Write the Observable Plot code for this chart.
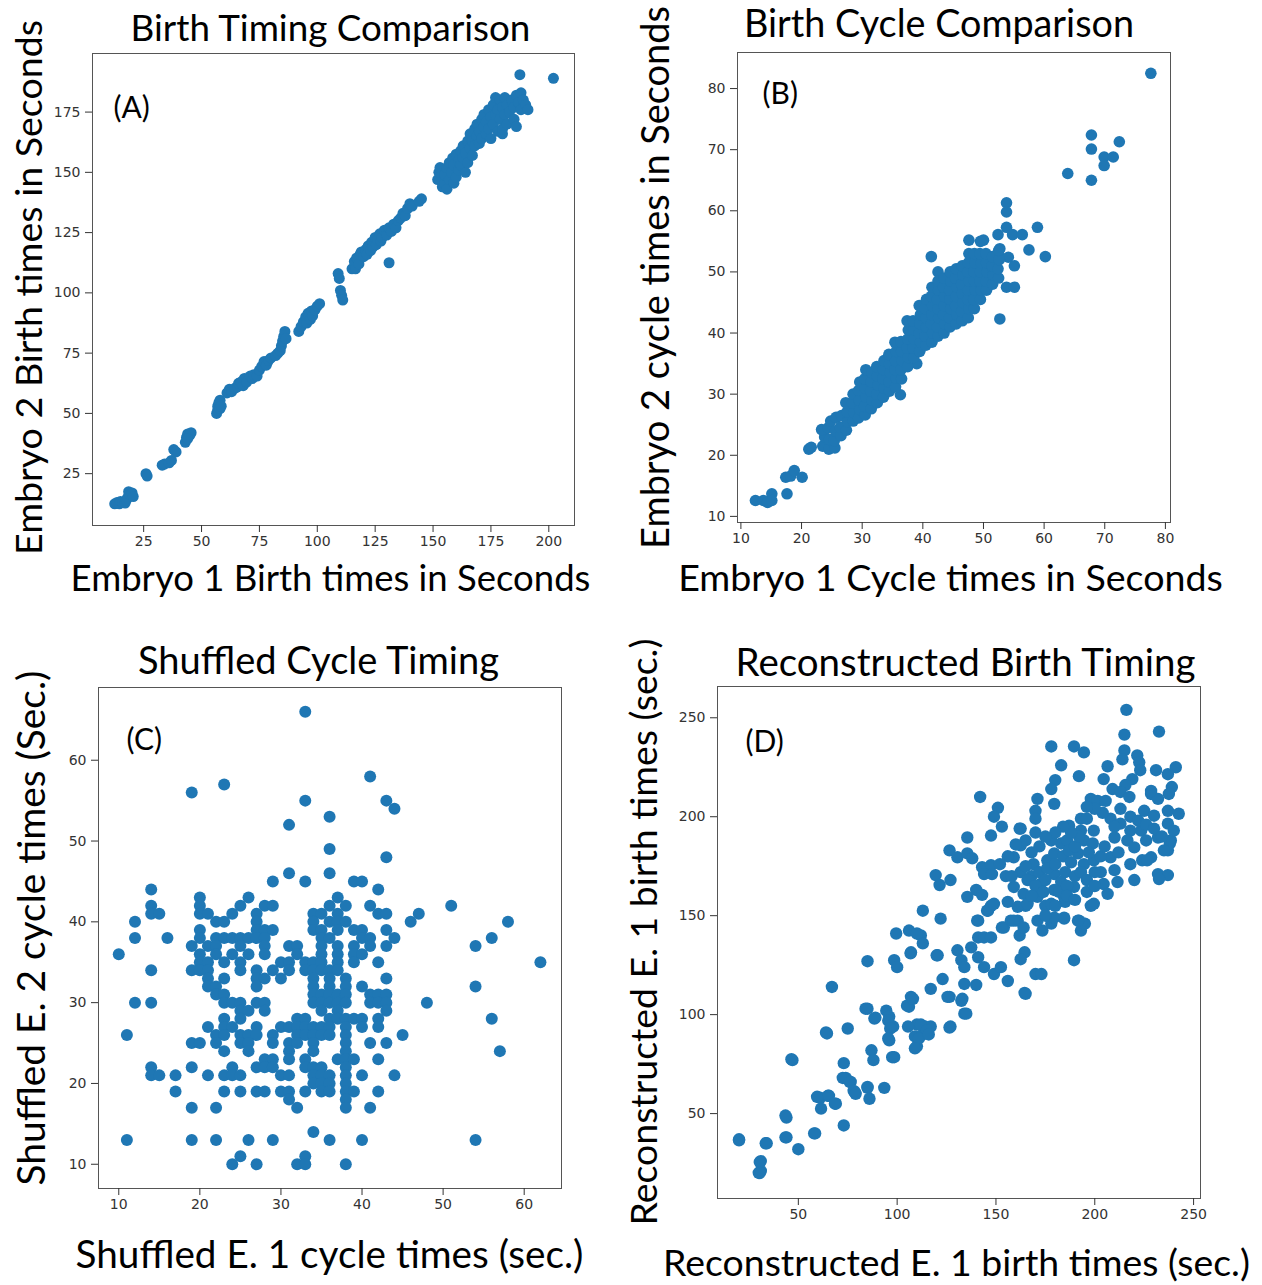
<!DOCTYPE html>
<html><head><meta charset="utf-8">
<script src="https://cdn.jsdelivr.net/npm/d3@7"></script>
<script src="https://cdn.jsdelivr.net/npm/@observablehq/plot@0.6"></script>
<style>
html,body{margin:0;padding:0;background:#fff;}
#root{position:relative;width:1262px;height:1285px;overflow:hidden;background:#fff;}
.panel{position:absolute;}
</style></head><body><div id="root"></div>
<script>
// ---------- DATA ----------
const titles = ["Birth Timing Comparison","Birth Cycle Comparison","Shuffled Cycle Timing","Reconstructed Birth Timing"];
const xLabels = ["Embryo 1 Birth times in Seconds","Embryo 1 Cycle times in Seconds","Shuffled E. 1 cycle times (sec.)","Reconstructed E. 1 birth times (sec.)"];
const yLabels = ["Embryo 2 Birth times in Seconds","Embryo 2 cycle times in Seconds","Shuffled E. 2 cycle times (Sec.)","Reconstructed E. 1 birth times (sec.)"];
const tags = ["(A)","(B)","(C)","(D)"];

const aXTicks = [25,50,75,100,125,150,175,200];
const aYTicks = [25,50,75,100,125,150,175];
const bXTicks = [10,20,30,40,50,60,70,80];
const bYTicks = [10,20,30,40,50,60,70,80];
const cXTicks = [10,20,30,40,50,60];
const cYTicks = [10,20,30,40,50,60];
const dXTicks = [50,100,150,200,250];
const dYTicks = [50,100,150,200,250];

const panelA = [[12.5,12.5],[13.5,13],[14.5,12.5],[15,13.5],[16,13],[17,12.8],[17.5,14],[18,15],[18.5,17.5],[19,16.5],[20,17],[20.5,15.5],[26,25],[26.5,24],[33,28.5],[34,29],[36,29.5],[37,30.5],[38,35],[39,34],[43,38],[43.5,40],[44,41.5],[45,41],[45.5,42],[44,39.5],[56.5,50],[57,51.5],[57,53],[57.5,54.5],[58,52],[58,55.5],[58.5,53],[61,58.5],[62,60],[63,59],[64.5,60.5],[65.5,61],[66,62.5],[67,63],[68,61.5],[68.5,64.5],[69.5,63],[71,65.5],[72,64.5],[72.5,66],[74,65.5],[75,68],[76,69.5],[77,71.5],[78,70],[79,72],[80,73],[82,74],[83,75],[84,76],[84.5,78],[85,80],[85.5,82],[86,84],[86.5,81],[92,84],[93,86],[94,88],[95,90],[95.5,87.5],[96,91.5],[97,89],[97.5,92.5],[98,90.5],[99,93],[100,94.5],[101,95.5],[109,108],[109.5,106],[110,101],[110.5,99],[111,97],[115,110],[116,113],[116.5,110],[117,114.5],[118,112],[118.5,116],[119,117],[120,115],[121,118],[121.5,116],[122,119.5],[123,117.5],[123.5,121],[124,119],[125,123],[125.5,120],[126,122],[127,124.5],[127.5,121.5],[128,123],[129,126],[130,124],[131,112.5],[131,127],[132,125.5],[133,128.5],[134,127],[135,130],[136,131],[137,133],[138,132],[139,135],[140,137],[141,136],[144,138],[145,139],[152,147],[152.5,150],[153,152],[154,144],[155,145.5],[155,149],[156,143],[156,152],[157,147],[157,154],[158,150],[158.5,156],[159,145.5],[159,153],[160,148],[160,157.5],[161,151],[161,155],[162,159],[162,153],[163,156],[163,161],[164,150],[164,158],[165,163],[165,154],[166,160],[166,166],[167,157],[167,163],[168,168],[168,161],[169,165],[169,170],[170,162],[170,167],[171,172],[171,164],[172,169],[172,174],[173,166],[173,171],[174,176],[174,168],[175,173],[175,164],[176,170],[176,178],[177,174],[177,181],[178,167],[178,176],[179,172],[179,180],[180,166],[180,168],[180,177],[181,174],[181,181],[182,170],[182,178],[183,175],[184,180],[185,172],[185,177],[186,169],[186,182],[187,179],[188,176],[188,183],[189,180],[190,178],[191,176],[187.5,190.5],[202,189]];

const panelB = [[12.4,12.6],[13.7,12.6],[14.4,12.3],[15.1,13.7],[15.1,12.6],[17.6,13.7],[17.4,16.4],[18.2,16.6],[18.8,17.5],[20.1,16.4],[21.2,21.0],[21.6,21.3],[36.3,29.9],[39,35],[52.7,42.3],[41.4,52.5],[42.5,50],[47.6,55.2],[50,55.2],[52.7,53.8],[52.7,52.4],[54.1,52.4],[55.1,51],[53.8,47.5],[55.1,47.5],[53.8,61.3],[53.8,59.8],[53.8,57.3],[52.4,56.1],[54.8,56.1],[56.4,56.1],[58.9,57.3],[57.5,53.6],[60.2,52.5],[63.9,66.1],[67.8,72.4],[67.8,70.1],[72.4,71.3],[69.9,68.8],[71.4,68.8],[69.9,67.4],[67.8,65],[77.6,82.5],
[23.5,21.5],[23.8,23],[23.3,24.2],[24.5,21],[24.6,22.6],[24.4,24.5],[24.8,25.6],[25.5,21.2],[25.4,22.4],[25.6,24],[25.7,26.2],[26.5,23.2],[26.4,24.6],[26.6,26.5],[27.4,24.1],[27.6,25.5],[27.5,27.1],[27.3,28.6],[28.5,25.6],[28.6,27],[28.4,28.5],[28.5,30],[29.4,26.1],[29.6,27.5],[29.5,29],[29.4,30.6],[29.6,32],[30.5,26.6],[30.4,28],[30.6,29.5],[30.5,31],[30.4,32.5],[30.6,34],[31.5,27.6],[31.6,29],[31.4,30.5],[31.5,32],[31.6,33.5],[32.5,28.6],[32.4,30],[32.6,31.5],[32.5,33],[32.4,34.5],[33.5,29.5],[33.6,31],[33.4,32.5],[33.5,34],[33.6,35.5],[34.5,30.5],[34.4,32],[34.6,33.5],[34.5,35],[34.4,36.5],[35.5,31.2],[35.6,32.6],[35.4,34],[35.5,35.5],[35.6,37],[35.4,38.5],[36.5,32.5],[36.4,34],[36.6,35.5],[36.5,37],[36.4,38.6],[37.5,34.5],[37.6,36],[37.4,37.5],[37.5,39],[37.6,40.5],[37.4,42],[38.5,36],[38.4,37.5],[38.6,39],[38.5,40.5],[38.4,42],[39.5,37],[39.6,38.5],[39.4,40],[39.5,41.5],[39.6,43],[39.4,44.5],[40.5,38],[40.4,39.5],[40.6,41],[40.5,42.5],[40.4,44],[40.6,45.5],[41.5,38.5],[41.6,40],[41.4,41.5],[41.5,43],[41.6,44.5],[41.4,46],[41.5,47.5],[42.5,39.5],[42.4,41],[42.6,42.5],[42.5,44],[42.4,45.5],[42.6,47],[42.5,48.5],[43.5,40],[43.6,41.5],[43.4,43],[43.5,44.5],[43.6,46],[43.4,47.5],[43.5,49],[44.5,41],[44.4,42.5],[44.6,44],[44.5,45.5],[44.4,47],[44.6,48.5],[44.5,50],[45.5,41.5],[45.6,43],[45.4,44.5],[45.5,46],[45.6,47.5],[45.4,49],[45.5,50.5],[46.5,42],[46.4,43.5],[46.6,45],[46.5,46.5],[46.4,48],[46.6,49.5],[46.5,51],[47.5,42.5],[47.6,44],[47.4,45.5],[47.5,47],[47.6,48.5],[47.4,50],[47.5,51.5],[47.6,53],[48.5,44],[48.4,45.5],[48.6,47],[48.5,48.5],[48.4,50],[48.6,51.5],[48.5,53],[49.5,45.5],[49.6,47],[49.4,48.5],[49.5,50],[49.6,51.5],[49.4,53],[49.5,55],[50.5,47],[50.4,48.5],[50.6,50],[50.5,51.5],[50.4,53],[51.5,48],[51.6,49.5],[51.4,51],[51.5,52.5],[52.5,49],[52.4,50.5],[52.6,52],[52.5,53.5]];

const panelC = [[33,66],[19,56],[23,57],[41,58],[33,55],[43,55],[44,54],[31,52],[36,53],[36,49],[43,48],[29,45],[31,46],[33,45],[36,46],[39,45],[40,45],[42,44],[14,44],[14,42],[14,41],[15,41],[12,40],[12,38],[16,38],[10,36],[46,40],[47,41],[51,42],[48,30],[54,37],[54,32],[56,38],[58,40],[62,35],[56,28],[57,24],[54,13],[12,30],[14,30],[11,26],[14,34],[11,13],[14,22],[14,21],[15,21],[17,21],[17,19],[19,22],[19,17],[22,17],[19,13],[22,13],[26,13],[29,13],[24,10],[25,11],[27,10],[32,10],[33,11],[33,10],[34,14],[36,13],[38,10],[40,13],[41,17],[42,19],[44,21],[45,26],
[20,43],[26,43],[37,43],
[20,42],[25,42],[28,42],[29,42],[36,42],[38,42],[41,42],
[20,41],[21,41],[24,41],[27,41],[34,41],[35,41],[37,41],[42,41],[43,41],
[22,40],[23,40],[27,40],[34,40],[36,40],[37,40],[38,40],
[20,39],[27,39],[28,39],[29,39],[34,39],[35,39],[37,39],[39,39],[40,39],[43,39],
[20,38],[22,38],[23,38],[24,38],[25,38],[26,38],[27,38],[28,38],[35,38],[36,38],[40,38],[41,38],[44,38],
[19,37],[21,37],[22,37],[25,37],[28,37],[31,37],[32,37],[35,37],[37,37],[39,37],[41,37],[43,37],
[20,36],[22,36],[24,36],[26,36],[28,36],[32,36],[35,36],[37,36],[39,36],[40,36],
[20,35],[21,35],[23,35],[25,35],[30,35],[31,35],[33,35],[34,35],[35,35],[37,35],[39,35],[42,35],
[19,34],[20,34],[21,34],[25,34],[27,34],[29,34],[31,34],[33,34],[34,34],[35,34],[36,34],[37,34],
[21,33],[23,33],[27,33],[28,33],[30,33],[34,33],[36,33],[38,33],[43,33],
[21,32],[22,32],[27,32],[34,32],[36,32],[38,32],[40,32],
[22,31],[23,31],[34,31],[35,31],[36,31],[37,31],[38,31],[41,31],[42,31],[43,31],
[23,30],[24,30],[25,30],[27,30],[28,30],[34,30],[35,30],[36,30],[37,30],[38,30],[41,30],[42,30],[43,30],
[25,29],[26,29],[28,29],[35,29],[37,29],[43,29],
[23,28],[25,28],[32,28],[33,28],[36,28],[37,28],[38,28],[39,28],[40,28],[42,28],
[21,27],[23,27],[24,27],[27,27],[30,27],[31,27],[32,27],[33,27],[34,27],[35,27],[36,27],[38,27],[40,27],[42,27],
[22,26],[23,26],[25,26],[26,26],[27,26],[29,26],[32,26],[33,26],[34,26],[35,26],[36,26],[38,26],
[19,25],[20,25],[22,25],[25,25],[26,25],[29,25],[31,25],[32,25],[34,25],[38,25],[41,25],[43,25],
[23,24],[26,24],[31,24],[34,24],[38,24],
[28,23],[29,23],[31,23],[33,23],[37,23],[38,23],[39,23],[42,23],
[24,22],[27,22],[28,22],[29,22],[33,22],[34,22],[35,22],[38,22],
[21,21],[23,21],[24,21],[25,21],[30,21],[31,21],[34,21],[35,21],[36,21],[38,21],[40,21],
[34,20],[35,20],[36,20],[38,20],
[23,19],[25,19],[27,19],[28,19],[30,19],[31,19],[33,19],[35,19],[36,19],[38,19],[39,19],
[31,18],[38,18],[32,17],[38,17]];

const panelD = [[20,37],[34,35],[31,26],[30,20],[31,21],[44,48],[44,38],[50,32],[58,40],[61,58],[65,59],[61.5,52.5],[69,55],[73,44],[47,77],[64,91],[75,93],[67,114],[73,75.5],[74,68],[76.5,66],[78.5,61],[85,63],[86,57.5],[93.5,63],[85,103],[88.5,98],[94.5,102],[96,99],[98,94],[96,87],[87,82],[88,77],[98.5,78.5],[107,109],[106,104],[110,95],[114,94],[109,89],[113,90],[110,84],[117,94],[105.5,94],[127,94],[126.5,109],[133,108],[134,100.5],[117,113],[123,118],[120.5,130],[85,127],[98.5,127.5],[100,124],[107,131.5],[99.5,141],[106,142.5],[112,140],[113,136],[113,152.5],[122,148.5],[130.5,132.5],[132.5,127.5],[134,124],[134,115.5],[140,115],[141,139],[144,139],[147.5,139],[137.5,134],[141,129],[144,124],[149,120.5],[152.5,124],[156,117],[141,147.5],[146,152.5],[147.5,155],[154,144],[157.5,147.5],[161,147.5],[162,140],[164.5,131.5],[162.5,128],[165,110.5],[170,120.5],[173,120.5],[189.5,127.5],[173.5,142.5],[178,146],[184.5,148.5],[192,147.5],[195,146],[193,142.5],[156,157],[165,155],[175,155],[185,157],[198,155],
[216,254],[232.5,243],[215,241.5],[178,235.5],[189.5,235.5],[194.5,232.5],[215,233.5],[214,229],[221.5,231],[222.5,227.5],[241,225],[231,223.5],[237,221.5],[206.5,225.5],[183,226],[180,218.5],[178,214],[192,220.5],[204.5,219],[209,214],[223,223.5],[219,219],[215.5,216],[213,212.5],[217.5,210],[239,215],[237.5,211.5],[228.5,211.5],[232,209],[142,210],[171,209],[179.5,206.5],[170,203],[170,199],[170,192],[198,209],[201.5,208],[205.5,208],[151,204.5],[149,200],[153,195],[147.5,190.5],[135.5,189.5],[162.5,194],[187,195.5],[193,199],[196,199],[193,193],[199.5,193],[194.5,188],[199,186.5],[208,199],[213,196.5],[218,193],[210,189.5],[216.5,188],[220,184.5],[225,203],[230,200.5],[237,203],[242.5,201.5],[237,196.5],[223.5,193],[226,188],[232,189.5],[238.5,188],[237,183],[224,178],[228.5,179.5],[232,171],[237,170.5],[232.5,168.5],[220,168],[126.5,183],[130.5,179.5],[135.5,181.5],[138,179],[143,174.5],[147.5,175.5],[144,171],[148,171],[119.5,170.5],[121.5,165.5],[127,168],[135.5,159.5],[140,163],[143,160.5],[162,194],[159,179.5],[162.5,185.5],[162.5,172],[159,164.5],[164,161],[161,154.5],[166,156],[171,159.5],[172.5,166],[169,176],[176,178],[179.5,181.5],[183,186.5],[186,188],[178,188],[179.5,171],[183,167],[179.5,163],[178,156],[184.5,159.5],[189.5,164.5],[191.5,181.5],[194.5,176],[199.5,178],[203,172],[204.5,166],[206.5,161],[199.5,156],[194.5,146],[191.5,147.5],[210,173],[211.5,167],[208,179.5],[110,141],[140.5,147.5],[145.5,152.5],[149,156],[153,144],[159,147.5],[164,144],[171,147.5],[179.5,149],[184.5,149],[228.5,213],[238,186.5],[235,183],[226.5,178],
[106.8,131],[120,130],[125.5,109],[132.5,107],[135,100.5],[164.5,111],[84,103],[89,98.5],[95.5,97],[96.5,93],[105,104.5],[108,108],[112,95],[115,92],[111,88],[116,90],[126.5,93.5],[95.5,88],[97.5,78.5],[109,83],[64.5,90.5],[46.5,77.5],[72.5,68],[76,66],[78,61.5],[79,60],[85,63.5],[59.5,58.5],[65.5,59],[68.5,55],[43.5,49],[58.5,40],[43.5,38],[20,36.5],[33.5,35],[30.5,25.5],[30.5,20],
[165,175],[168,170],[172,172],[175,168],[176,174],[180,176],[184,180],[187,183],[190,185],[188,177],[185,172],[182,162],[186,165],[190,170],[193,172],[196,168],[200,172],[203,180],[197,182],[192,190],[188,192],[184,195],[180,192],[175,190],[172,185],[168,182],[165,188],[160,186],[156,180],[152,176],[155,170],[158,170],[166,168],[170,165],[174,162],[168,160],[175,150],[180,155],[186,160],[190,158],[196,162],[200,165],[205,185],[210,195],[213,204],[218,200],[222,198],[226,196],[230,194],[234,190],[240,193],[218,176],[212,182],[204,202],[200,204],[196,205]];

// ---------- LAYOUT ----------
const BLUE = "#1f77b4";
const BIG = "Lato, 'Open Sans', sans-serif";
const panels = [
  {data: panelA, xd:[2.9,211.1], yd:[3.5,199.3], xt:aXTicks, yt:aYTicks, r:5.5,
   left:0, top:0, w:620, h:620, m:[53,46,95,92],
   title:titles[0], tdx:-3, tdy:-13, tw:400,
   xl:xLabels[0], xdx:-3, xdy:65, xw:520,
   yl:yLabels[0], ydx:-63, ydy:-2, yw:535,
   tag:tags[0], gdx:21, gdy:55},
  {data: panelB, xd:[9.44,80.84], yd:[9.0,85.9], xt:bXTicks, yt:bYTicks, r:5.8,
   left:620, top:0, w:642, h:620, m:[52,92,98,117],
   title:titles[1], tdx:-15, tdy:-16, tw:390,
   xl:xLabels[1], xdx:-3.5, xdy:68, xw:545,
   yl:yLabels[1], ydx:-81, ydy:-10, yw:543,
   tag:tags[1], gdx:25, gdy:42},
  {data: panelC, xd:[7.5,64.6], yd:[7.0,69.0], xt:cXTicks, yt:cYTicks, r:6,
   left:0, top:620, w:620, h:665, m:[67,59,97,98],
   title:titles[2], tdx:-11.5, tdy:-14, tw:361,
   xl:xLabels[2], xdx:-0.5, xdy:79, xw:508,
   yl:yLabels[2], ydx:-65.5, ydy:-10, yw:515,
   tag:tags[2], gdx:28, gdy:53},
  {data: panelD, xd:[9.1,253.5], yd:[7.1,265.8], xt:dXTicks, yt:dYTicks, r:6.2,
   left:620, top:620, w:642, h:665, m:[66,62,87,97],
   title:titles[3], tdx:6.5, tdy:-11, tw:460,
   xl:xLabels[3], xdx:-2.5, xdy:77, xw:587,
   yl:yLabels[3], ydx:-72.5, ydy:-10.5, yw:593,
   tag:tags[3], gdx:28, gdy:56}
];

const root = document.getElementById("root");
for (const p of panels) {
  const chart = Plot.plot({
    width: p.w, height: p.h,
    marginTop: p.m[0], marginRight: p.m[1], marginBottom: p.m[2], marginLeft: p.m[3],
    x: {domain: p.xd}, y: {domain: p.yd},
    style: {background: "transparent", color: "#333", fontFamily: "'DejaVu Sans', sans-serif", fontSize: "14px", overflow: "visible"},
    marks: [
      Plot.dot(p.data, {x: d => d[0], y: d => d[1], r: p.r, fill: BLUE, stroke: "none"}),
      Plot.frame({stroke: "#555", strokeWidth: 1}),
      Plot.axisX({ticks: p.xt, tickSize: 7, tickPadding: 4, label: null, tickFormat: d => String(d), fontSize: 14}),
      Plot.axisY({ticks: p.yt, tickSize: 7, tickPadding: 5, label: null, tickFormat: d => String(d), fontSize: 14}),
      Plot.text([p.title], {text: d => d, frameAnchor: "top", dx: p.tdx, dy: p.tdy, textAnchor: "middle", lineAnchor: "bottom", fontSize: 32, fontFamily: BIG, fill: "#000"}),
      Plot.text([p.xl], {text: d => d, frameAnchor: "bottom", dx: p.xdx, dy: p.xdy, textAnchor: "middle", lineAnchor: "bottom", fontSize: 32, fontFamily: BIG, fill: "#000"}),
      Plot.text([p.yl], {text: d => d, frameAnchor: "left", dx: p.ydx, dy: p.ydy, rotate: -90, textAnchor: "middle", lineAnchor: "middle", fontSize: 32, fontFamily: BIG, fill: "#000"}),
      Plot.text([p.tag], {text: d => d, frameAnchor: "top-left", dx: p.gdx, dy: p.gdy, textAnchor: "start", lineAnchor: "middle", fontSize: 30, fontFamily: BIG, fill: "#000"})
    ]
  });
  chart.classList.add("panel");
  chart.style.left = p.left + "px";
  chart.style.top = p.top + "px";
  root.appendChild(chart);
  // fit the large labels to the widths they take in the reference
  const targets = [[p.title, p.tw], [p.xl, p.xw], [p.yl, p.yw]];
  chart.querySelectorAll("text").forEach(t => {
    const hit = targets.find(([s]) => s === t.textContent);
    if (!hit) return;
    const fs = parseFloat(getComputedStyle(t).fontSize);
    const len = t.getComputedTextLength();
    if (len > 0) t.style.fontSize = (fs * hit[1] / len) + "px";
  });
}
</script></body></html>
